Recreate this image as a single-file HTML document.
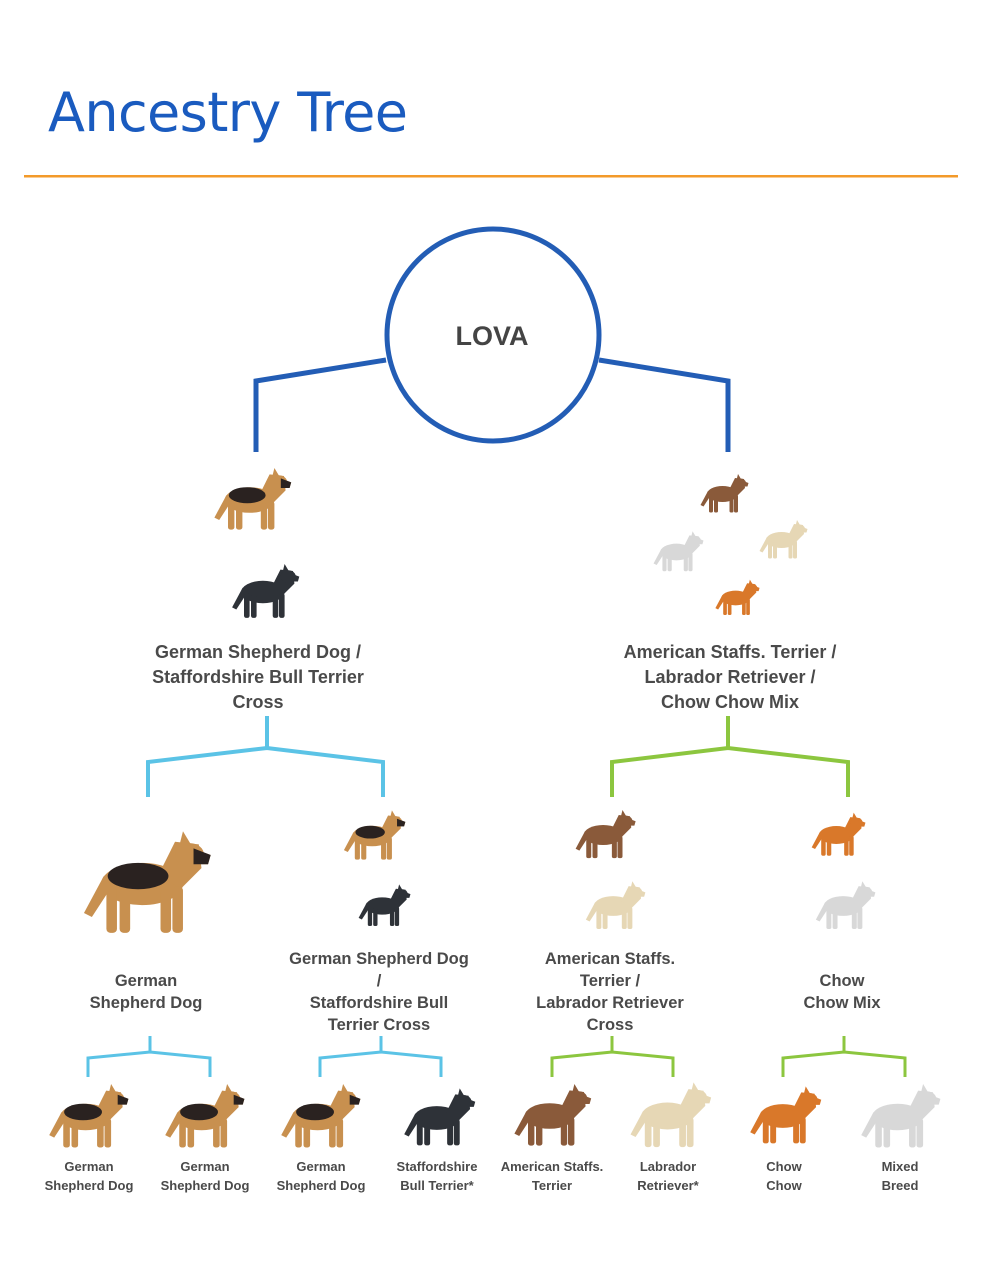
<!DOCTYPE html>
<html><head><meta charset="utf-8"><style>
html,body{margin:0;padding:0;background:#fff;}
svg{display:block;}
text{font-family:"Liberation Sans","DejaVu Sans",sans-serif;font-weight:bold;fill:#4a4a4a;text-anchor:middle;}
</style></head><body>
<svg width="982" height="1265" viewBox="0 0 982 1265" xmlns="http://www.w3.org/2000/svg">
<defs>
<symbol id="dog" viewBox="0 0 100 80">
<g fill="currentColor">
<ellipse cx="47" cy="40" rx="31" ry="16"/>
<path d="M60 32 L72 8 L90 10 L92 28 L76 44 Z"/>
<ellipse cx="83" cy="18" rx="11" ry="9"/>
<path d="M86 13 L99 18 L97 25 L86 25 Z"/>
<path d="M75 12 L78 0 L84 10 Z"/>
<rect x="20" y="42" width="8" height="35" rx="3"/>
<rect x="30" y="44" width="8" height="33" rx="3"/>
<rect x="61" y="44" width="8" height="33" rx="3"/>
<rect x="70" y="42" width="8" height="35" rx="3"/>
<path d="M18 34 L3 62 L9 65 L24 42 Z"/>
</g>
</symbol>
<symbol id="gsd" viewBox="0 0 100 80">
<use href="#dog" width="100" height="80" style="color:#c8904f"/>
<ellipse cx="44" cy="34" rx="23" ry="10" fill="#2a2220"/>
<path d="M86 13 L99 18 L97 25 L86 25 Z" fill="#2a2220"/>
</symbol>
</defs>

<text x="48" y="131" style="font-family:'DejaVu Sans','Liberation Sans',sans-serif;font-weight:normal;fill:#1a5bbf;text-anchor:start;font-size:54px" textLength="360">Ancestry Tree</text>
<rect x="24" y="175" width="934" height="2.5" fill="#f39a2a"/>

<circle cx="493" cy="335" r="106" fill="none" stroke="#235db5" stroke-width="5"/>
<text x="492" y="345" style="font-size:27px;fill:#444">LOVA</text>
<polyline points="386,360 256,381 256,452" fill="none" stroke="#235db5" stroke-width="5"/>
<polyline points="599,360 728,381 728,452" fill="none" stroke="#235db5" stroke-width="5"/>

<use href="#gsd" x="212" y="468" width="80" height="64"/>
<use href="#dog" x="230" y="560" width="70" height="64" style="color:#2e3238"/>
<use href="#dog" x="698" y="474" width="52" height="40" style="color:#8a5a3a"/>
<use href="#dog" x="652" y="530" width="52" height="44" style="color:#d8d8d8"/>
<use href="#dog" x="758" y="516" width="50" height="48" style="color:#e6d7b5"/>
<use href="#dog" x="714" y="576" width="46" height="44" style="color:#d9782a"/>

<g style="font-size:18px">
<text x="258" y="658">German Shepherd Dog /</text>
<text x="258" y="683">Staffordshire Bull Terrier</text>
<text x="258" y="708">Cross</text>
<text x="730" y="658">American Staffs. Terrier /</text>
<text x="730" y="683">Labrador Retriever /</text>
<text x="730" y="708">Chow Chow Mix</text>
</g>

<polyline points="148,797 148,762 267,748 383,762 383,797" fill="none" stroke="#5bc3e6" stroke-width="4"/>
<line x1="267" y1="716" x2="267" y2="750" stroke="#5bc3e6" stroke-width="4"/>
<polyline points="612,797 612,762 728,748 848,762 848,797" fill="none" stroke="#8cc63f" stroke-width="4"/>
<line x1="728" y1="716" x2="728" y2="750" stroke="#8cc63f" stroke-width="4"/>

<use href="#gsd" x="80" y="830" width="132" height="108"/>
<use href="#gsd" x="342" y="810" width="64" height="52"/>
<use href="#dog" x="357" y="880" width="54" height="52" style="color:#2e3238"/>
<use href="#dog" x="572" y="810" width="66" height="50" style="color:#8a5a3a"/>
<use href="#dog" x="584" y="876" width="62" height="60" style="color:#e6d7b5"/>
<use href="#dog" x="810" y="808" width="56" height="54" style="color:#d9782a"/>
<use href="#dog" x="814" y="880" width="62" height="52" style="color:#d8d8d8"/>

<g style="font-size:16.5px">
<text x="146" y="986">German</text>
<text x="146" y="1008">Shepherd Dog</text>
<text x="379" y="964">German Shepherd Dog</text>
<text x="379" y="986">/</text>
<text x="379" y="1008">Staffordshire Bull</text>
<text x="379" y="1030">Terrier Cross</text>
<text x="610" y="964">American Staffs.</text>
<text x="610" y="986">Terrier /</text>
<text x="610" y="1008">Labrador Retriever</text>
<text x="610" y="1030">Cross</text>
<text x="842" y="986">Chow</text>
<text x="842" y="1008">Chow Mix</text>
</g>

<g fill="none" stroke-width="3">
<polyline points="88,1077 88,1058 150,1052 210,1058 210,1077" stroke="#5bc3e6"/>
<line x1="150" y1="1036" x2="150" y2="1053" stroke="#5bc3e6"/>
<polyline points="320,1077 320,1058 381,1052 441,1058 441,1077" stroke="#5bc3e6"/>
<line x1="381" y1="1036" x2="381" y2="1053" stroke="#5bc3e6"/>
<polyline points="552,1077 552,1058 612,1052 673,1058 673,1077" stroke="#8cc63f"/>
<line x1="612" y1="1036" x2="612" y2="1053" stroke="#8cc63f"/>
<polyline points="783,1077 783,1058 844,1052 905,1058 905,1077" stroke="#8cc63f"/>
<line x1="844" y1="1036" x2="844" y2="1053" stroke="#8cc63f"/>
</g>

<use href="#gsd" x="46" y="1084" width="84" height="66"/>
<use href="#gsd" x="162" y="1084" width="84" height="66"/>
<use href="#gsd" x="278" y="1084" width="84" height="66"/>
<use href="#dog" x="402" y="1084" width="74" height="68" style="color:#2e3238"/>
<use href="#dog" x="508" y="1084" width="88" height="64" style="color:#8a5a3a"/>
<use href="#dog" x="628" y="1078" width="84" height="76" style="color:#e6d7b5"/>
<use href="#dog" x="748" y="1080" width="74" height="72" style="color:#d9782a"/>
<use href="#dog" x="858" y="1084" width="84" height="66" style="color:#d8d8d8"/>

<g style="font-size:13px">
<text x="89" y="1171">German</text><text x="89" y="1190">Shepherd Dog</text>
<text x="205" y="1171">German</text><text x="205" y="1190">Shepherd Dog</text>
<text x="321" y="1171">German</text><text x="321" y="1190">Shepherd Dog</text>
<text x="437" y="1171">Staffordshire</text><text x="437" y="1190">Bull Terrier*</text>
<text x="552" y="1171">American Staffs.</text><text x="552" y="1190">Terrier</text>
<text x="668" y="1171">Labrador</text><text x="668" y="1190">Retriever*</text>
<text x="784" y="1171">Chow</text><text x="784" y="1190">Chow</text>
<text x="900" y="1171">Mixed</text><text x="900" y="1190">Breed</text>
</g>
</svg>
</body></html>
